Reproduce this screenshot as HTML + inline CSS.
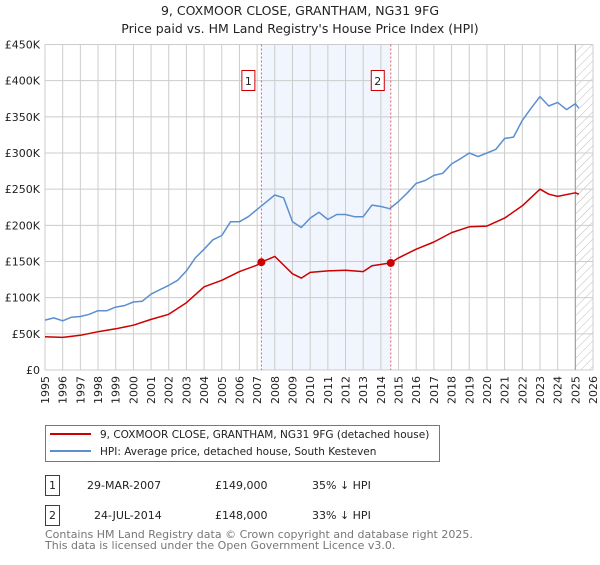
<!DOCTYPE html>
<html><head><meta charset="utf-8"><style>
body{margin:0;background:#fff;font-family:"Liberation Sans","DejaVu Sans",sans-serif;}
svg text{font-family:"DejaVu Sans","Liberation Sans",sans-serif;}
</style></head><body>
<svg id="c" width="600" height="560" viewBox="0 0 600 560">
<defs><pattern id="hatch" width="6" height="6" patternUnits="userSpaceOnUse" patternTransform="rotate(45)"><line x1="0" y1="0" x2="0" y2="6" stroke="#bbb" stroke-width="1"/></pattern></defs>
<text x="300" y="15" text-anchor="middle" font-size="12.5" fill="#222">9, COXMOOR CLOSE, GRANTHAM, NG31 9FG</text>
<text x="300" y="33" text-anchor="middle" font-size="12.5" fill="#222">Price paid vs. HM Land Registry's House Price Index (HPI)</text>
<g id="plot"></g>
<g>
<rect x="45.5" y="425.5" width="394" height="36" fill="#fff" stroke="#777"/>
<line x1="50" y1="434" x2="91" y2="434" stroke="#cc0000" stroke-width="2"/>
<text x="100" y="438" font-size="10.5" fill="#222">9, COXMOOR CLOSE, GRANTHAM, NG31 9FG (detached house)</text>
<line x1="50" y1="451" x2="91" y2="451" stroke="#5b8fd0" stroke-width="2"/>
<text x="100" y="455" font-size="10.5" fill="#222">HPI: Average price, detached house, South Kesteven</text>
</g>
<g>
<rect x="45.5" y="475.5" width="14" height="20" fill="#fff" stroke="#cc0000"/>
<text x="52.5" y="489" text-anchor="middle" font-size="11" fill="#222">1</text>
<text x="87" y="489" font-size="11" fill="#222">29-MAR-2007</text>
<text x="215" y="489" font-size="11" fill="#222">£149,000</text>
<text x="312" y="489" font-size="11" fill="#222">35% ↓ HPI</text>
<rect x="45.5" y="505.5" width="14" height="20" fill="#fff" stroke="#cc0000"/>
<text x="52.5" y="519" text-anchor="middle" font-size="11" fill="#222">2</text>
<text x="94" y="519" font-size="11" fill="#222">24-JUL-2014</text>
<text x="215" y="519" font-size="11" fill="#222">£148,000</text>
<text x="312" y="519" font-size="11" fill="#222">33% ↓ HPI</text>
</g>
<text x="45" y="538" font-size="11" fill="#777">Contains HM Land Registry data © Crown copyright and database right 2025.</text>
<text x="45" y="549" font-size="11" fill="#777">This data is licensed under the Open Government Licence v3.0.</text>
</svg>
<script>
const hpiYears=[1995,1995.5,1996,1996.5,1997,1997.5,1998,1998.5,1999,1999.5,2000,2000.5,2001,2001.5,2002,2002.5,2003,2003.5,2004,2004.5,2005,2005.5,2006,2006.5,2007,2007.5,2008,2008.5,2009,2009.5,2010,2010.5,2011,2011.5,2012,2012.5,2013,2013.5,2014,2014.5,2015,2015.5,2016,2016.5,2017,2017.5,2018,2018.5,2019,2019.5,2020,2020.5,2021,2021.5,2022,2022.5,2023,2023.5,2024,2024.5,2025,2025.2];
const hpiValues=[69,72,68,73,74,77,82,82,87,89,94,95,105,111,117,124,137,155,167,180,186,205,205,212,222,232,242,238,205,197,210,218,208,215,215,212,212,228,226,223,233,245,258,262,269,272,285,292,300,295,300,305,320,322,345,362,378,365,370,360,368,362];
const priceYears=[1995,1996,1997,1998,1999,2000,2001,2002,2003,2004,2005,2006,2007,2007.24,2008,2009,2009.5,2010,2011,2012,2013,2013.5,2014.56,2015,2016,2017,2018,2019,2020,2021,2022,2023,2023.5,2024,2025,2025.2];
const priceValues=[46,45,48,53,57,62,70,77,93,115,124,136,145,149,157,133,127,135,137,138,136,144,148,155,167,177,190,198,199,210,227,250,243,240,245,243];
const saleYears=[2007.24,2014.56];
const saleValues=[149,148];
const yTicks=[0,50,100,150,200,250,300,350,400,450];
const xTicks=[1995,1996,1997,1998,1999,2000,2001,2002,2003,2004,2005,2006,2007,2008,2009,2010,2011,2012,2013,2014,2015,2016,2017,2018,2019,2020,2021,2022,2023,2024,2025,2026];
const X0=45,X1=593,Y0=370,Y1=44.5;
const xs=y=>X0+(y-1995)/(2026-1995)*(X1-X0);
const ys=v=>Y0-v/450*(Y0-Y1);
const NS="http://www.w3.org/2000/svg";
const g=document.getElementById('plot');
function mk(t,a,p){const e=document.createElementNS(NS,t);for(const k in a)e.setAttribute(k,a[k]);(p||g).appendChild(e);return e;}
let e;
e=mk('rect',{x:xs(saleYears[0]),y:Y1,width:xs(saleYears[1])-xs(saleYears[0]),height:Y0-Y1,fill:'#eef3fd',opacity:0.8});


e=mk('rect',{x:xs(2025),y:Y1,width:X1-xs(2025),height:Y0-Y1,fill:'url(#hatch)'});


xTicks.forEach(t=>{
 e=mk('line',{x1:xs(t),x2:xs(t),y1:Y1,y2:Y0,stroke:'#ccc','stroke-width':1});
 
 
 e=mk('text',{x:0,y:0,'font-size':11,fill:'#222','text-anchor':'end',transform:`translate(${xs(t)+4},${Y0+6}) rotate(-90)`});
 e.textContent=t;
 
 
});
yTicks.forEach(t=>{
 e=mk('line',{x1:X0,x2:X1,y1:ys(t),y2:ys(t),stroke:'#ccc','stroke-width':1});
 
 
 e=mk('text',{x:X0-5,y:ys(t)+4,'font-size':11,fill:'#222','text-anchor':'end'});
 e.textContent=t===0?'£0':'£'+t+'K';
 
 
});
e=mk('line',{x1:xs(2025),x2:xs(2025),y1:Y1,y2:Y0,stroke:'#999','stroke-width':1});


saleYears.forEach((s,i)=>{
 e=mk('line',{x1:xs(s),x2:xs(s),y1:Y1,y2:Y0,stroke:'#e06060','stroke-width':1,'stroke-dasharray':'2,2'});
 
 
 e=mk('rect',{x:xs(s)-19.5,y:70.5,width:13,height:20,fill:'#fff',stroke:'#cc0000'});
 
 
 e=mk('text',{x:xs(s)-13,y:85,'font-size':11,fill:'#222','text-anchor':'middle'});
 e.textContent=String(i+1);
 
 
});
function line(xa,va,col,name){
 const d=xa.map((x,i)=>(i?'L':'M')+xs(x).toFixed(1)+','+ys(va[i]).toFixed(1)).join('');
 const p=mk('path',{d:d,fill:'none',stroke:col,'stroke-width':1.5,'stroke-linejoin':'round'});
 
 
}
line(hpiYears,hpiValues,'#5b8fd0','hpi-line');
line(priceYears,priceValues,'#cc0000','price-paid-line');
saleYears.forEach((s,i)=>{
 e=mk('circle',{cx:xs(s),cy:ys(saleValues[i]),r:4,fill:'#cc0000'});
 
 
});
</script>
</body></html>
